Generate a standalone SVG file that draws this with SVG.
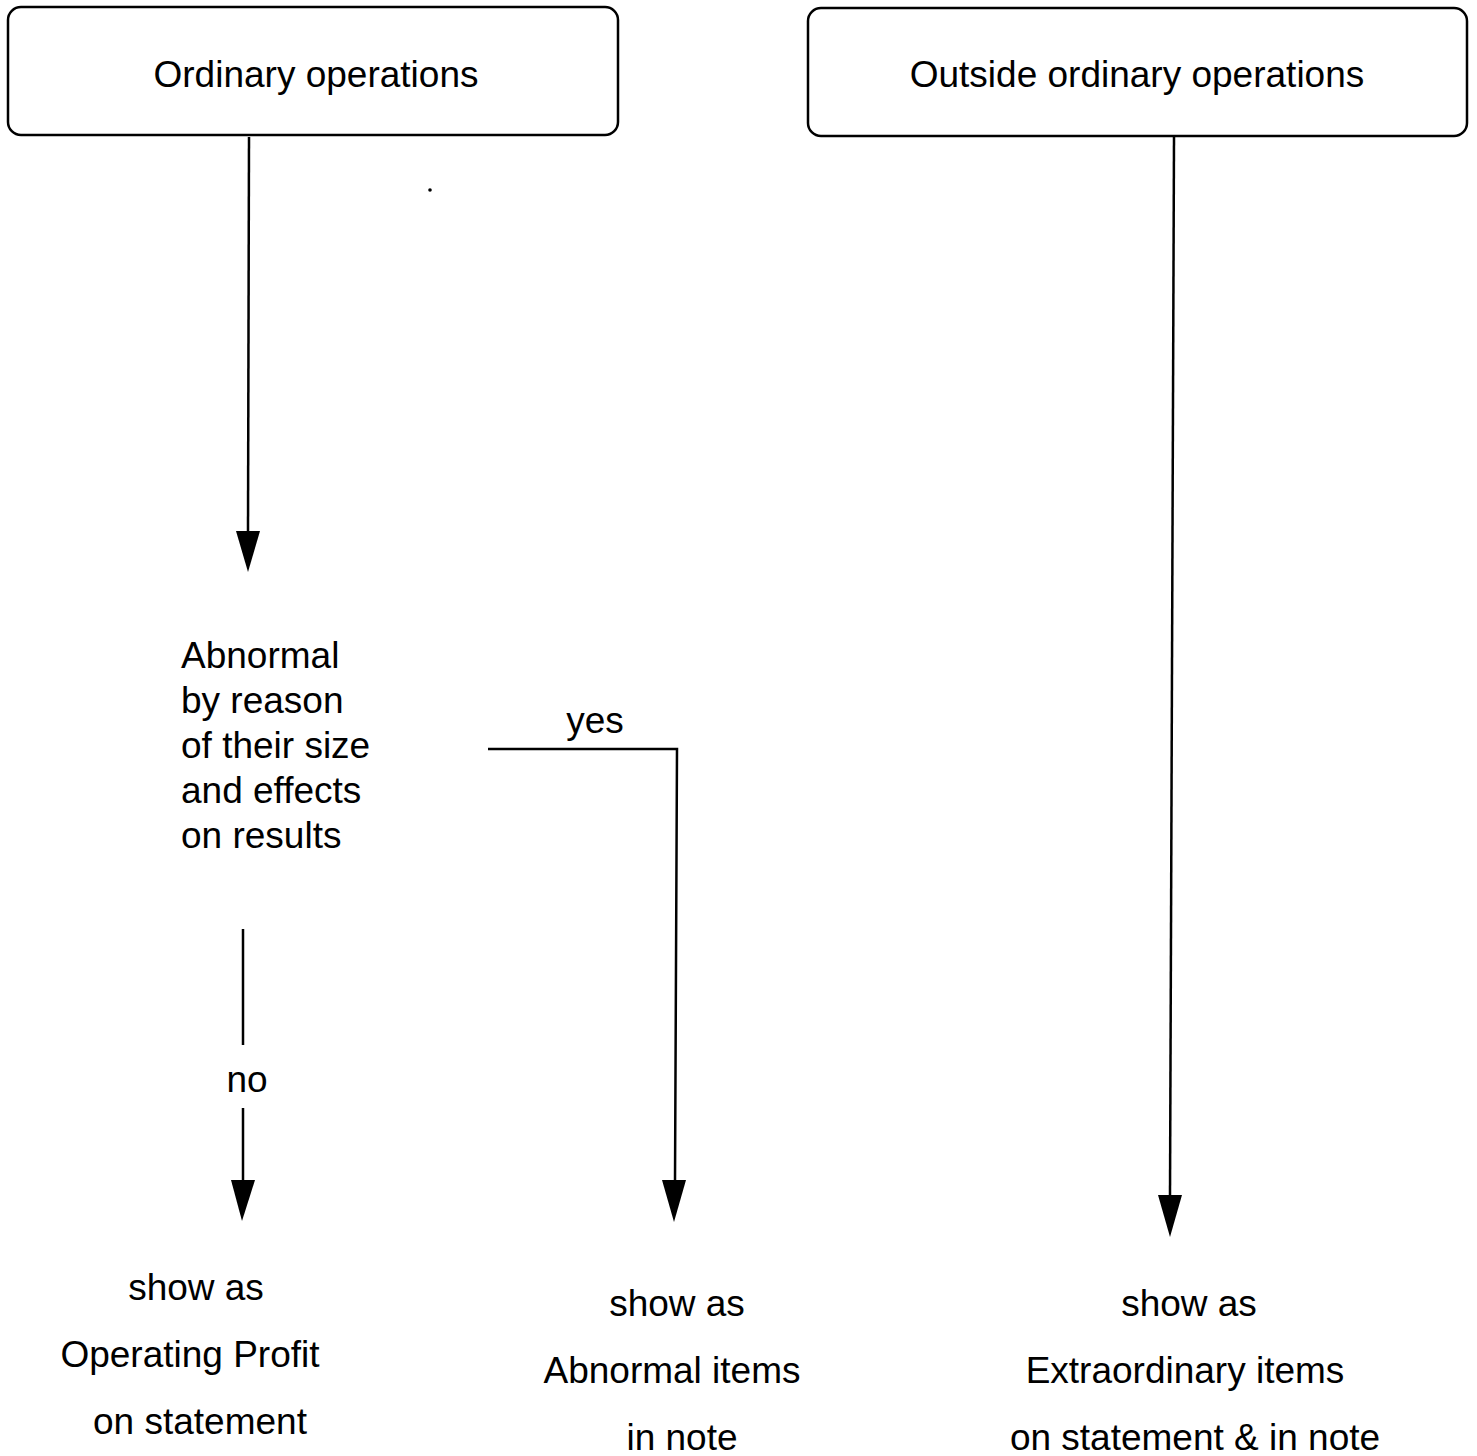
<svg xmlns="http://www.w3.org/2000/svg" width="1477" height="1456" viewBox="0 0 1477 1456">
<style>
text{font-family:"Liberation Sans",Arial,sans-serif;font-size:37px;fill:#000}
.box{fill:#fff;stroke:#000;stroke-width:2.5}
.c{text-anchor:middle}
.ln{stroke:#000;stroke-width:2.5;fill:none}
</style>
<rect width="1477" height="1456" fill="#fff"/>
<g id="connectors">
<line class="ln" x1="249" y1="137" x2="248" y2="531"/>
<path d="M236,531 L260,531 L248,572 Z" fill="#000"/>
<line class="ln" x1="243" y1="929" x2="243" y2="1045"/>
<line class="ln" x1="243" y1="1108" x2="243" y2="1180"/>
<path d="M231,1180 L255,1180 L242,1221 Z" fill="#000"/>
<polyline class="ln" points="488,749 677,749 675,1181"/>
<path d="M662,1180 L686,1180 L674,1222 Z" fill="#000"/>
<line class="ln" x1="1174" y1="137" x2="1170" y2="1196"/>
<path d="M1158,1195 L1182,1195 L1170,1237 Z" fill="#000"/>
<text id="lbl-yes" x="595" y="733" class="c">yes</text>
<text id="lbl-no" x="247" y="1092" class="c">no</text>
</g>
<g id="n-ordinary">
<rect class="box" x="8" y="7" width="610" height="128" rx="13"/>
<text x="316" y="87" class="c">Ordinary operations</text>
</g>
<g id="n-outside">
<rect class="box" x="808" y="8" width="659" height="128" rx="13"/>
<text x="1137" y="87" class="c">Outside ordinary operations</text>
</g>
<g id="n-abnormal">
<text x="181" y="668">Abnormal</text>
<text x="181" y="713">by reason</text>
<text x="181" y="758">of their size</text>
<text x="181" y="803">and effects</text>
<text x="181" y="848">on results</text>
</g>
<g id="n-operating">
<text x="196" y="1300" class="c">show as</text>
<text x="190" y="1367" class="c">Operating Profit</text>
<text x="200" y="1434" class="c">on statement</text>
</g>
<g id="n-abitems">
<text x="677" y="1316" class="c">show as</text>
<text x="672" y="1383" class="c">Abnormal items</text>
<text x="682" y="1450" class="c">in note</text>
</g>
<g id="n-extra">
<text x="1189" y="1316" class="c">show as</text>
<text x="1185" y="1383" class="c">Extraordinary items</text>
<text x="1195" y="1450" class="c">on statement &amp; in note</text>
</g>
<circle cx="430" cy="190" r="1.8" fill="#000"/>
</svg>
